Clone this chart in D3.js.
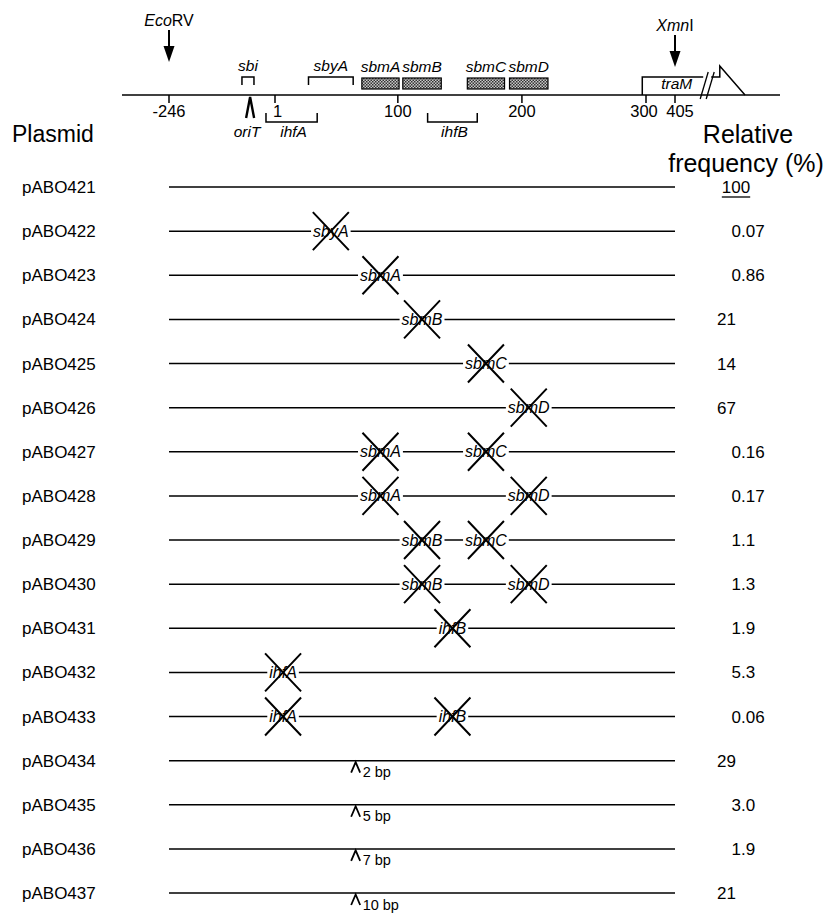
<!DOCTYPE html>
<html>
<head>
<meta charset="utf-8">
<script src="https://cdn.jsdelivr.net/npm/d3@7"></script>
<style>
  html, body { margin: 0; padding: 0; background: #fff; }
  svg { display: block; font-family: "Liberation Sans", Arial, Helvetica, sans-serif; }
</style>
</head>
<body>
<svg id="chart" width="830" height="913"></svg>
<script>
// ---------------- data ----------------
const plasmids = ["pABO421","pABO422","pABO423","pABO424","pABO425","pABO426","pABO427","pABO428","pABO429","pABO430","pABO431","pABO432","pABO433","pABO434","pABO435","pABO436","pABO437"];
const frequencies = ["100","0.07","0.86","21","14","67","0.16","0.17","1.1","1.3","1.9","5.3","0.06","29","3.0","1.9","21"];
const deletions = [[],["sbyA"],["sbmA"],["sbmB"],["sbmC"],["sbmD"],["sbmA","sbmC"],["sbmA","sbmD"],["sbmB","sbmC"],["sbmB","sbmD"],["ihfB"],["ihfA"],["ihfA","ihfB"],[],[],[],[]];
const insertions = [null,null,null,null,null,null,null,null,null,null,null,null,null,"2 bp","5 bp","7 bp","10 bp"];
const insertionSite = 66;           // bp coordinate of insertions

// map coordinates (bp, on a broken scale)
const mapTicks = [-246, 1, 100, 200, 300, 405];
const mapTickLabels = ["-246", "1", "100", "200", "300", "405"];
const boxGenes = ["sbmA","sbmB","sbmC","sbmD"];
const boxStart = [71, 104, 156, 190];
const boxEnd   = [101, 135, 186, 221];
const upperBrackets = ["sbi","sbyA"];
const upperStart = [-76, 28];
const upperEnd   = [-48, 64];
const lowerBrackets = ["ihfA","ihfB"];
const lowerStart = [-20, 124];
const lowerEnd   = [35, 164];
const oriTPos = -57;
const ecoRVPos = -246, xmnIPos = 405;
const traMStart = 297, breakPos = 428, flagPos = 437, flagEnd = 455;
const mapStart = -356, mapEnd = 480;
const fragStart = -246, fragEnd = 405;

// ---------------- scales ----------------
const x = d3.scaleLinear()
  .domain([mapStart, -246, 1, 300, 405, mapEnd])
  .range([122, 169, 275, 646, 675, 780]);
const rowY = d3.scalePoint().domain(plasmids).range([187, 893]);

const geneMid = {};
boxGenes.forEach((g,i)=> geneMid[g] = (boxStart[i]+boxEnd[i])/2);
upperBrackets.forEach((g,i)=> geneMid[g] = (upperStart[i]+upperEnd[i])/2);
lowerBrackets.forEach((g,i)=> geneMid[g] = (lowerStart[i]+lowerEnd[i])/2);

const svg = d3.select("#chart");
const defs = svg.append("defs");
const pat = defs.append("pattern").attr("id","stip").attr("width",3).attr("height",3)
  .attr("patternUnits","userSpaceOnUse");
pat.append("rect").attr("width",3).attr("height",3).attr("fill","#c8c8c8");
pat.append("rect").attr("width",1.5).attr("height",1.5).attr("fill","#333");
pat.append("rect").attr("x",1.5).attr("y",1.5).attr("width",1.5).attr("height",1.5).attr("fill","#333");

// ---------------- map ----------------
const baseY = 95;
const map = svg.append("g");
map.append("line").attr("x1",x(mapStart)).attr("x2",x(mapEnd)).attr("y1",baseY).attr("y2",baseY)
  .attr("stroke","#000").attr("stroke-width",1.5);

// ticks
const tk = map.selectAll(".tick").data(mapTicks).join("g");
tk.append("line").attr("x1",d=>x(d)).attr("x2",d=>x(d)).attr("y1",baseY).attr("y2",baseY+8)
  .attr("stroke","#000").attr("stroke-width",1.5);
tk.append("text").attr("x",(d,i)=> x(d) + (i===1 ? -2 : (i===5 ? 5 : (i===4 ? -2 : 0))))
  .attr("y",baseY+22).attr("text-anchor",(d,i)=> i===1 ? "start" : "middle")
  .attr("font-size",16.5).text((d,i)=>mapTickLabels[i]);

// gene boxes
boxGenes.forEach((g,i)=>{
  map.append("rect").attr("x",x(boxStart[i])).attr("y",78)
    .attr("width",x(boxEnd[i])-x(boxStart[i])).attr("height",11)
    .attr("fill","url(#stip)").attr("stroke","#000").attr("stroke-width",1.2);
  map.append("text").attr("x",x(geneMid[g])).attr("y",72).attr("text-anchor","middle")
    .attr("font-size",15.5).attr("font-style","italic").text(g);
});
// upper brackets
upperBrackets.forEach((g,i)=>{
  const a = x(upperStart[i]), b = x(upperEnd[i]);
  map.append("path").attr("d",`M${a},85V77H${b}V85`).attr("fill","none").attr("stroke","#000").attr("stroke-width",1.5);
  map.append("text").attr("x",(a+b)/2).attr("y",71).attr("text-anchor","middle")
    .attr("font-size",15.5).attr("font-style","italic").text(g);
});
// lower brackets
lowerBrackets.forEach((g,i)=>{
  const a = x(lowerStart[i]), b = x(lowerEnd[i]);
  map.append("path").attr("d",`M${a},113V122H${b}V113`).attr("fill","none").attr("stroke","#000").attr("stroke-width",1.5);
  map.append("text").attr("x",(a+b)/2 + 2).attr("y",137).attr("text-anchor","middle")
    .attr("font-size",15.5).attr("font-style","italic").text(g);
});
// oriT
const ox = x(oriTPos);
map.append("path").attr("d",`M${ox-4},118L${ox},97L${ox+4},118`).attr("fill","none").attr("stroke","#000").attr("stroke-width",2.4);
map.append("text").attr("x",ox-3).attr("y",137).attr("text-anchor","middle")
  .attr("font-size",15.5).attr("font-style","italic").text("oriT");

// restriction site arrows
function siteArrow(pos, italicPart, plainPart, yTop) {
  const ax = x(pos);
  map.append("line").attr("x1",ax).attr("x2",ax).attr("y1",yTop+4).attr("y2",yTop+22)
    .attr("stroke","#000").attr("stroke-width",2);
  map.append("path").attr("d",`M${ax-5.5},${yTop+20}L${ax+5.5},${yTop+20}L${ax},${yTop+36}Z`).attr("fill","#000");
  const t = map.append("text").attr("x",ax).attr("y",yTop).attr("text-anchor","middle").attr("font-size",16);
  t.append("tspan").attr("font-style","italic").text(italicPart);
  t.append("tspan").text(plainPart);
}
siteArrow(ecoRVPos, "Eco", "RV", 26);
siteArrow(xmnIPos, "Xmn", "I", 31);

// traM box and flag
const tx = x(traMStart), bx = x(breakPos), fx = x(flagPos), fe = x(flagEnd);
map.append("path").attr("d",`M${tx},${baseY}V77H${bx-4}`).attr("fill","none").attr("stroke","#000").attr("stroke-width",1.5);
map.append("text").attr("x",(tx+bx)/2+2).attr("y",89).attr("text-anchor","middle")
  .attr("font-size",15.5).attr("font-style","italic").text("traM");
map.append("path").attr("d",`M${bx+4},77H${fx}V66L${fe},${baseY}`).attr("fill","none").attr("stroke","#000").attr("stroke-width",1.5);
// break marks
[-3, 3].forEach(o=>{
  map.append("line").attr("x1",bx+o-4).attr("y1",99).attr("x2",bx+o+4).attr("y2",72)
    .attr("stroke","#000").attr("stroke-width",1.3);
});

// ---------------- headers ----------------
svg.append("text").attr("x",12).attr("y",142).attr("font-size",23).text("Plasmid");
svg.append("text").attr("x",748).attr("y",143).attr("text-anchor","middle").attr("font-size",25).text("Relative");
svg.append("text").attr("x",746).attr("y",172).attr("text-anchor","middle").attr("font-size",25).text("frequency (%)");

// ---------------- rows ----------------
const rows = svg.selectAll(".row").data(plasmids).join("g").attr("class","row")
  .attr("transform",d=>`translate(0,${rowY(d)})`);
rows.append("text").attr("x",22).attr("y",6).attr("font-size",17).text(d=>d);
rows.append("line").attr("x1",x(fragStart)).attr("x2",x(fragEnd)).attr("y1",0).attr("y2",0)
  .attr("stroke","#000").attr("stroke-width",1.5);

// deletions
rows.each(function(p,i){
  const g = d3.select(this);
  deletions[i].forEach(gene=>{
    const cx = x(geneMid[gene]);
    const t = g.append("text").attr("x",cx).attr("y",5.5).attr("text-anchor","middle")
      .attr("font-size",16).attr("font-style","italic").text(gene);
    const w = t.node().getComputedTextLength();
    g.insert("rect", "text:last-child").attr("x",cx-w/2-2).attr("y",-4).attr("width",w+4).attr("height",8).attr("fill","#fff");
    g.append("path").attr("d",`M${cx-18},-19L${cx+18},19M${cx+18},-19L${cx-18},19`)
      .attr("stroke","#000").attr("stroke-width",2).attr("fill","none");
  });
  if (insertions[i]) {
    const ix = x(insertionSite);
    g.append("path").attr("d",`M${ix-4.5},12L${ix},1.5L${ix+4.5},12`).attr("fill","none").attr("stroke","#000").attr("stroke-width",1.8);
    g.append("text").attr("x",ix+7).attr("y",16.5).attr("font-size",14.5).text(insertions[i]);
  }
  // frequency
  const val = frequencies[i];
  const ft = g.append("text").attr("y",6).attr("font-size",17).text(val);
  if (i === 0) {
    ft.attr("x",736).attr("text-anchor","middle");
    const w = ft.node().getComputedTextLength();
    g.append("line").attr("x1",736-w/2).attr("x2",736+w/2).attr("y1",10).attr("y2",10).attr("stroke","#000").attr("stroke-width",1.3);
  } else if (val.includes(".")) {
    const tmp = g.append("text").attr("font-size",17).text(val.split(".")[0]);
    const iw = tmp.node().getComputedTextLength();
    tmp.remove();
    ft.attr("x",741 - iw);
  } else {
    ft.attr("x",717);
  }
});
</script>
</body>
</html>
